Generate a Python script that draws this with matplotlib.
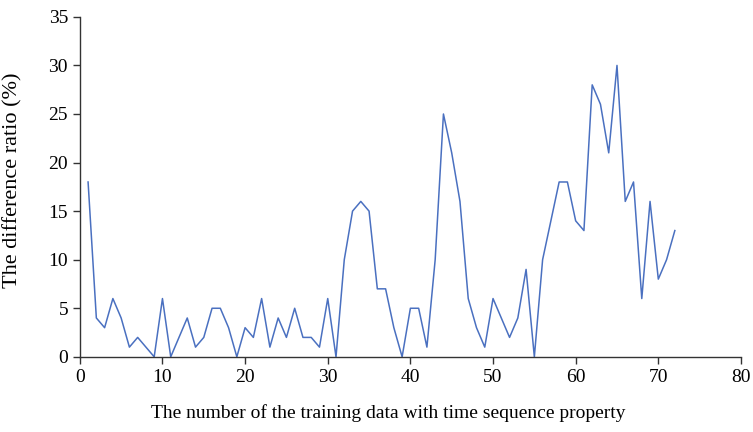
import matplotlib
matplotlib.use("Agg")
import matplotlib.pyplot as plt

# difference ratio (%) for each training sample count 1..72
samples = list(range(1, 73))
ratio = [18, 4, 3, 6, 4, 1, 2, 1, 0, 6,
         0, 2, 4, 1, 2, 5, 5, 3, 0, 3,
         2, 6, 1, 4, 2, 5, 2, 2, 1, 6,
         0, 10, 15, 16, 15, 7, 7, 3, 0, 5,
         5, 1, 10, 25, 21, 16, 6, 3, 1, 6,
         4, 2, 4, 9, 0, 10, 14, 18, 18, 14,
         13, 28, 26, 21, 30, 16, 18, 6, 16, 8,
         10, 13]

xticks = list(range(0, 81, 10))
yticks = list(range(0, 36, 5))

plt.rcParams["font.family"] = ["Liberation Serif", "DejaVu Serif"]

fig = plt.figure(figsize=(7.53, 4.32), dpi=100)
ax = fig.add_axes([0.106, 0.174, 0.878, 0.787])

ax.plot(samples, ratio, color="#4a70c0", linewidth=1.1)

ax.set_xlim(0, 80)
ax.set_ylim(0, 35)
ax.set_xticks(xticks)
ax.set_yticks(yticks)
ax.tick_params(direction="out", length=5, width=1, labelsize=14, color="#333333")
ax.spines["top"].set_visible(False)
ax.spines["right"].set_visible(False)
for s in ("left", "bottom"):
    ax.spines[s].set_color("#333333")
    ax.spines[s].set_linewidth(1)

ax.set_xlabel("The number of the training data with time sequence property", fontsize=14)
ax.xaxis.set_label_coords(0.467, -0.14)
ax.set_ylabel("The difference ratio (%)", fontsize=16)
ax.yaxis.set_label_coords(-0.087, 0.52)

fig.savefig("out.png", dpi=100)
